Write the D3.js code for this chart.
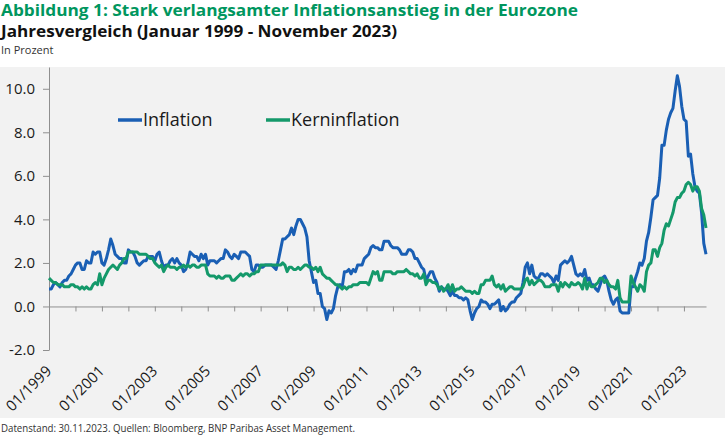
<!DOCTYPE html>
<html>
<head>
<meta charset="utf-8">
<script src="https://d3js.org/d3.v7.min.js"></script>
<style>
  body { margin: 0; background: #ffffff; }
  text { font-family: "Open Sans", sans-serif; }
  .axis path, .axis line { stroke: #8f8f8f; stroke-width: 1px; }
  .axis text { font-size: 15px; fill: #1a1a1a; }
  .title { font-size: 16px; font-weight: 700; }
  .sub { font-size: 11px; fill: #333333; }
  .legend text { font-size: 18px; fill: #1a1a1a; }
</style>
</head>
<body>
<div id="chart"></div>
<script>
// monthly values, 01/1999 - 11/2023, in percent
const inflation = [
  0.8,0.8,1.0,1.1,1.0,0.9,1.1,1.2,1.2,1.4,1.5,1.7,
  1.9,2.0,2.0,1.7,1.7,2.1,2.0,2.0,2.5,2.4,2.5,2.5,
  2.0,1.9,2.2,2.6,3.1,2.8,2.4,2.3,2.2,2.2,2.0,2.0,
  2.6,2.5,2.5,2.3,2.0,1.9,2.0,2.1,2.1,2.3,2.3,2.3,
  2.1,2.4,2.5,2.1,1.8,1.9,1.9,2.1,2.2,2.0,2.2,2.0,
  1.9,1.6,1.7,2.0,2.5,2.4,2.3,2.3,2.1,2.4,2.2,2.4,
  1.9,2.1,2.1,2.1,2.0,2.1,2.2,2.2,2.6,2.5,2.3,2.2,
  2.4,2.3,2.2,2.5,2.5,2.5,2.4,2.3,1.7,1.6,1.9,1.9,
  1.8,1.8,1.9,1.9,1.9,1.9,1.8,1.7,2.1,2.6,3.1,3.1,
  3.2,3.3,3.6,3.3,3.7,4.0,4.0,3.8,3.6,3.2,2.1,1.6,
  1.1,1.2,0.6,0.6,0.0,-0.1,-0.6,-0.2,-0.3,-0.1,0.5,0.9,
  1.0,0.9,1.6,1.6,1.7,1.5,1.7,1.6,1.9,1.9,1.9,2.2,
  2.3,2.4,2.7,2.8,2.7,2.7,2.6,2.6,3.0,3.0,3.0,2.8,
  2.7,2.7,2.7,2.6,2.4,2.4,2.4,2.6,2.6,2.5,2.2,2.2,
  2.0,1.8,1.7,1.2,1.4,1.6,1.6,1.3,1.1,0.7,0.9,0.8,
  0.8,0.7,0.5,0.7,0.5,0.5,0.4,0.4,0.3,0.4,0.3,-0.2,
  -0.6,-0.3,-0.1,0.0,0.3,0.2,0.2,0.1,-0.1,0.1,0.1,0.2,
  0.3,-0.2,0.0,-0.2,-0.1,0.1,0.2,0.2,0.4,0.5,0.6,1.1,
  1.8,2.0,1.5,1.9,1.4,1.3,1.3,1.5,1.5,1.4,1.5,1.4,
  1.3,1.1,1.4,1.2,1.9,2.0,2.1,2.0,2.1,2.3,1.9,1.5,
  1.4,1.5,1.4,1.7,1.2,1.3,1.0,1.0,0.8,0.7,1.0,1.3,
  1.4,1.2,0.7,0.3,0.1,0.3,0.4,-0.2,-0.3,-0.3,-0.3,-0.3,
  0.9,0.9,1.3,1.6,2.0,1.9,2.2,3.0,3.4,4.1,4.9,5.0,
  5.1,5.9,7.4,7.4,8.1,8.6,8.9,9.1,9.9,10.6,10.1,9.2,
  8.6,8.5,6.9,7.0,6.1,5.5,5.3,5.2,4.3,2.9,2.4
];

const kerninflation = [
  1.3,1.2,1.1,1.1,1.0,1.0,1.0,0.9,0.9,0.9,1.0,1.0,
  0.9,0.9,0.8,0.9,0.8,0.9,0.8,0.8,1.0,1.1,1.0,1.5,
  1.0,1.3,1.5,1.7,1.8,1.9,1.8,1.7,1.9,2.0,2.2,2.2,
  2.5,2.5,2.5,2.5,2.5,2.4,2.4,2.4,2.4,2.3,2.2,2.2,
  2.0,1.9,1.8,1.9,1.6,1.8,1.9,1.8,1.8,1.8,1.7,1.8,
  1.8,1.9,1.8,1.9,1.8,1.9,1.9,1.8,1.8,1.9,1.9,1.9,
  1.5,1.4,1.4,1.4,1.3,1.4,1.3,1.3,1.4,1.4,1.4,1.2,
  1.2,1.3,1.4,1.5,1.4,1.5,1.5,1.4,1.5,1.5,1.6,1.6,
  1.9,1.9,1.9,1.9,1.9,1.9,1.9,1.9,1.9,1.9,2.0,1.9,
  1.6,1.8,1.8,1.7,1.7,1.8,1.7,1.8,1.9,1.9,1.8,1.8,
  1.7,1.8,1.6,1.8,1.5,1.4,1.3,1.3,1.2,1.1,1.0,1.0,
  0.9,0.8,0.9,0.8,0.9,0.9,1.0,1.0,1.0,1.1,1.1,1.1,
  1.1,1.0,1.3,1.6,1.5,1.6,1.2,1.2,1.6,1.6,1.6,1.6,
  1.5,1.5,1.6,1.6,1.6,1.6,1.7,1.6,1.5,1.5,1.4,1.5,
  1.3,1.3,1.5,1.0,1.2,1.2,1.1,1.1,1.0,0.8,0.9,0.7,
  0.8,1.0,0.7,1.0,0.7,0.8,0.8,0.9,0.8,0.7,0.7,0.7,
  0.6,0.7,0.6,0.6,1.0,1.0,1.2,1.2,1.2,1.4,1.0,0.9,
  1.0,0.8,1.0,0.7,0.8,0.9,0.9,0.8,0.8,0.8,0.8,0.9,
  1.2,1.3,1.0,1.2,1.0,1.1,1.2,1.2,1.1,0.9,0.9,0.9,
  1.0,1.0,1.0,0.7,1.1,0.9,1.1,1.0,0.9,1.1,1.0,1.0,
  1.1,1.0,0.8,1.3,0.8,1.1,0.9,0.9,1.0,1.1,1.3,1.3,
  1.1,1.2,1.0,0.9,0.9,0.8,1.2,0.4,0.2,0.2,0.2,0.2,
  1.4,1.1,0.9,0.7,1.0,0.9,0.7,1.6,1.9,2.0,2.6,2.6,
  2.3,2.7,2.9,3.5,3.8,3.7,4.0,4.3,4.8,5.0,5.0,5.2,
  5.3,5.6,5.7,5.6,5.3,5.5,5.5,5.3,4.5,4.2,3.6
];

const xLabels = ["01/1999","01/2001","01/2003","01/2005","01/2007","01/2009",
  "01/2011","01/2013","01/2015","01/2017","01/2019","01/2021","01/2023"];
const yTicks = [-2, 0, 2, 4, 6, 8, 10];
const seriesNames = ["Inflation", "Kerninflation"];
const seriesColors = ["#1a5fb4", "#14996a"];

const width = 725, height = 436;

const svg = d3.select("#chart")
  .append("svg")
  .attr("width", width)
  .attr("height", height);

// grey plot backdrop
svg.append("rect")
  .attr("x", 0).attr("y", 67)
  .attr("width", width).attr("height", 351)
  .attr("fill", "#f2f2f2");

// titles
svg.append("text").attr("class", "title")
  .attr("x", 1).attr("y", 16)
  .attr("fill", "#00965e")
  .attr("textLength", 577).attr("lengthAdjust", "spacingAndGlyphs")
  .text("Abbildung 1: Stark verlangsamter Inflationsanstieg in der Eurozone");
svg.append("text").attr("class", "title")
  .attr("x", 1).attr("y", 37)
  .attr("fill", "#111111")
  .attr("textLength", 396).attr("lengthAdjust", "spacingAndGlyphs")
  .text("Jahresvergleich (Januar 1999 - November 2023)");
svg.append("text").attr("class", "sub")
  .attr("x", 1).attr("y", 54)
  .text("In Prozent");

// footer
svg.append("text").attr("class", "sub")
  .attr("x", 1).attr("y", 432)
  .attr("textLength", 354).attr("lengthAdjust", "spacingAndGlyphs")
  .text("Datenstand: 30.11.2023. Quellen: Bloomberg, BNP Paribas Asset Management.");

// scales
const x = d3.scaleLinear()
  .domain([0, inflation.length - 1])
  .range([49, 706]);
const y = d3.scaleLinear()
  .domain([-2, 11])
  .range([350, 67]);

// y axis (plain hyphen for the minus, as in the original)
svg.append("g")
  .attr("class", "axis")
  .attr("transform", "translate(49,0)")
  .call(d3.axisLeft(y)
    .tickValues(yTicks)
    .tickSize(6)
    .tickSizeOuter(0)
    .tickPadding(8)
    .tickFormat(d => d.toFixed(1)));

// x axis at zero, a tick each January, a label every second year
const xAxis = svg.append("g")
  .attr("class", "axis")
  .attr("transform", `translate(0,${y(0)})`)
  .call(d3.axisBottom(x)
    .tickValues(d3.range(0, inflation.length, 12))
    .tickSize(5)
    .tickSizeOuter(0)
    .tickFormat(d => d % 24 === 0 ? xLabels[d / 24] : ""));

xAxis.selectAll("text")
  .attr("x", 0).attr("y", 0).attr("dy", 0)
  .attr("transform", `translate(3,${372 - y(0)}) rotate(-45)`)
  .style("text-anchor", "end");

// lines
const line = d3.line()
  .x((d, i) => x(i))
  .y(d => y(d));

[inflation, kerninflation].forEach((s, k) => {
  svg.append("path")
    .datum(s)
    .attr("fill", "none")
    .attr("stroke", seriesColors[k])
    .attr("stroke-width", 3)
    .attr("stroke-linejoin", "round")
    .attr("d", line);
});

// legend
const legendX = [118, 266];
const legend = svg.append("g").attr("class", "legend");
seriesNames.forEach((name, k) => {
  legend.append("line")
    .attr("x1", legendX[k]).attr("x2", legendX[k] + 24)
    .attr("y1", 120).attr("y2", 120)
    .attr("stroke", seriesColors[k])
    .attr("stroke-width", 3.5);
  legend.append("text")
    .attr("x", legendX[k] + 25).attr("y", 126)
    .text(name);
});
</script>
</body>
</html>
